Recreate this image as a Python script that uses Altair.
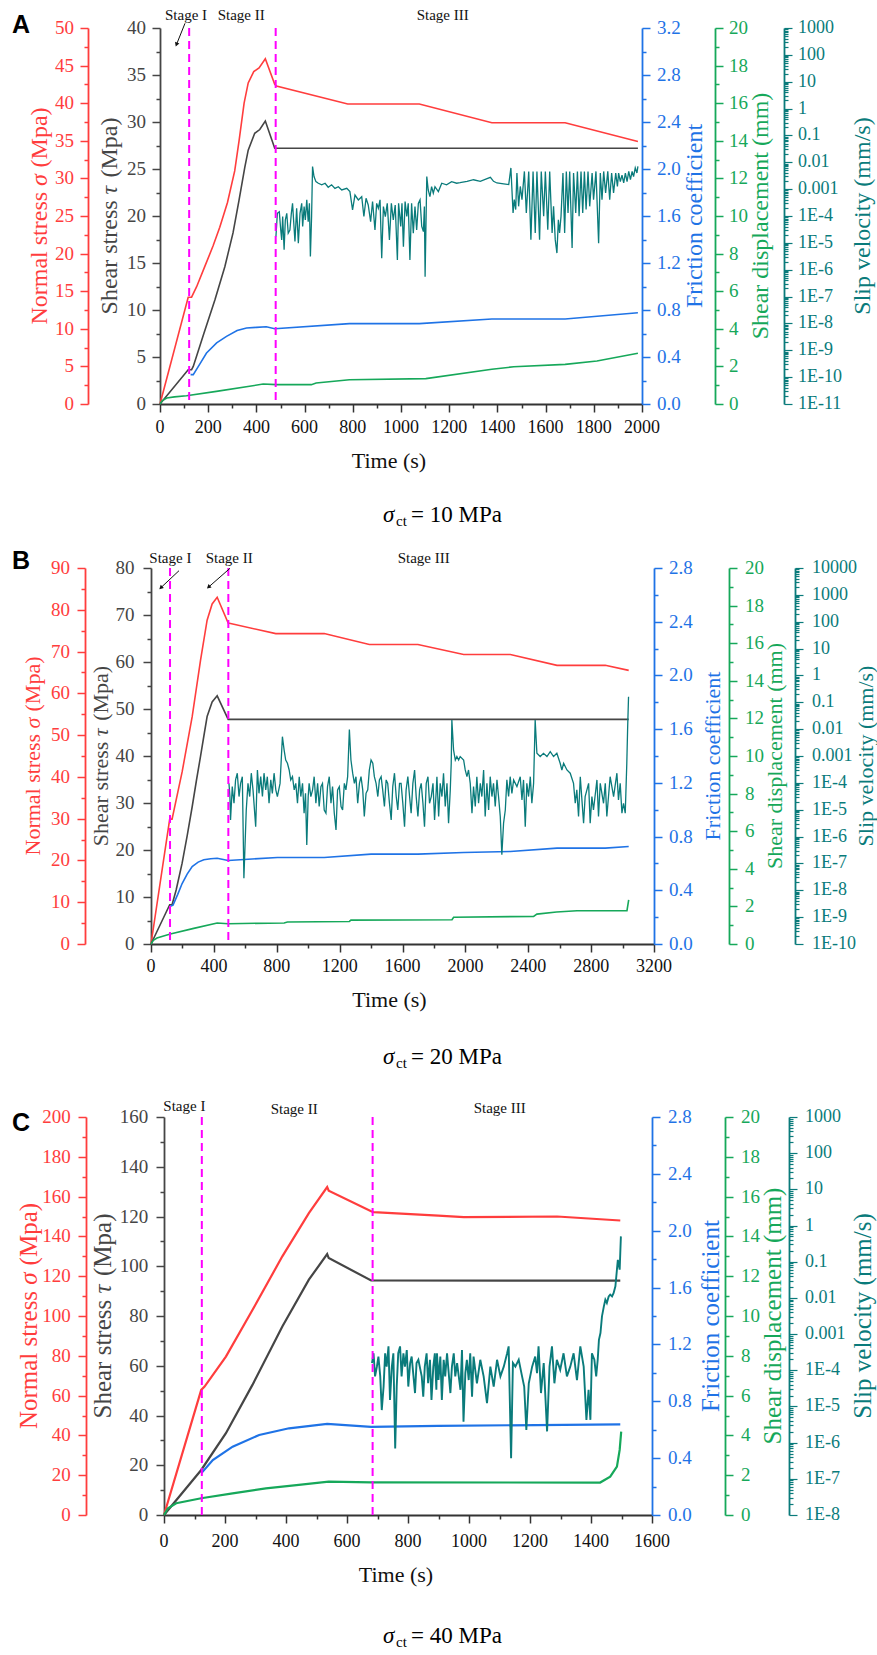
import altair as alt
import pandas as pd

FONT = "Liberation Serif"
RED = "#ff3d3d"
GRAY = "#454545"
BLUE = "#1f73e6"
GREEN = "#16a85a"
TEAL = "#0a7b7b"
MAG = "#ff00ff"
VIEW_W, VIEW_H = 877, 1655

# ---------------- Panel A (sigma_ct = 10 MPa) ----------------
A_red_t = [0, 117, 131, 152, 186, 220, 248, 280, 310, 328, 349, 366, 389, 411, 437, 476, 483, 779, 1076, 1377, 1681, 1983]
A_red_v = [0, 14.2, 14.2, 15.6, 18.3, 21.0, 23.5, 26.8, 31.0, 35.0, 40.0, 42.7, 44.2, 44.7, 45.9, 42.5, 42.3, 39.9, 39.9, 37.4, 37.4, 34.9]
A_blk_t = [0, 117, 131, 138, 182, 228, 269, 303, 328, 352, 366, 393, 414, 437, 476, 1983]
A_blk_v = [0, 3.65, 3.65, 4.0, 7.5, 11.1, 14.6, 18.2, 21.7, 25.2, 27.0, 28.8, 29.2, 30.1, 27.2, 27.2]
A_blu_t = [127, 138, 165, 193, 235, 276, 320, 359, 400, 441, 476, 786, 1076, 1377, 1681, 1983]
A_blu_v = [0.25, 0.25, 0.34, 0.434, 0.52, 0.576, 0.625, 0.647, 0.652, 0.658, 0.641, 0.684, 0.684, 0.723, 0.723, 0.777]
A_grn_t = [0, 10, 28, 60, 110, 234, 428, 483, 628, 648, 786, 1103, 1377, 1468, 1681, 1813, 1983]
A_grn_v = [0, 0.18, 0.32, 0.38, 0.44, 0.67, 1.06, 1.03, 1.03, 1.12, 1.29, 1.35, 1.85, 1.98, 2.11, 2.29, 2.70]
# slip velocity, log10(mm/s)
A_slip_t = [481, 487, 495, 501, 505, 509, 515, 520, 526, 532, 539, 545, 550, 556, 560, 567, 574, 581, 588, 592,
            598, 603, 609, 615, 620, 624, 629, 633, 639, 647, 657, 671, 685, 698, 712, 726, 740, 754, 775, 788,
            799, 809, 823, 837, 846, 855, 864, 874, 882, 892, 899, 906, 913, 920, 927, 935, 943, 952, 960, 968,
            976, 985, 990, 999, 1004, 1010, 1017, 1024, 1030, 1037, 1044, 1051, 1058, 1065, 1072, 1079, 1086, 1093, 1097, 1100,
            1107, 1113, 1120, 1127, 1134, 1141, 1155, 1169, 1189, 1210, 1231, 1245, 1274, 1301, 1329, 1357, 1371, 1384, 1398, 1426,
            1447, 1456, 1465, 1470, 1476, 1481, 1488, 1495, 1502, 1512, 1520, 1530, 1539, 1548, 1557, 1564, 1575, 1582, 1592, 1599,
            1609, 1617, 1627, 1633, 1640, 1647, 1653, 1658, 1664, 1672, 1679, 1686, 1693, 1700, 1710, 1716, 1725, 1732, 1739, 1747,
            1754, 1761, 1768, 1776, 1783, 1793, 1799, 1809, 1820, 1827, 1834, 1841, 1849, 1858, 1866, 1874, 1882, 1891, 1898, 1903,
            1910, 1917, 1924, 1931, 1938, 1945, 1952, 1959, 1965, 1972, 1979, 1983]
A_slip_log = [-4.77, -3.90, -3.84, -4.52, -4.89, -4.02, -5.26, -4.15, -3.90, -4.64, -4.52, -3.90, -3.53, -4.39, -4.95, -3.71, -5.01, -3.90, -3.53, -4.39,
              -3.65, -4.15, -3.40, -4.21, -3.53, -5.51, -4.02, -2.16, -2.53, -2.72, -2.78, -2.84, -2.78, -2.93, -2.84, -2.97, -2.91, -3.03, -2.97, -3.09,
              -3.77, -3.22, -3.40, -3.28, -4.02, -3.34, -3.59, -4.21, -3.46, -4.52, -3.53, -3.71, -3.40, -5.57, -3.65, -4.02, -3.53, -4.89, -3.53, -4.15,
              -3.59, -5.64, -3.53, -4.39, -3.53, -5.14, -3.46, -4.02, -3.53, -5.64, -3.53, -4.64, -3.65, -4.52, -3.53, -3.40, -4.39, -4.58, -3.65, -6.26,
              -2.53, -3.03, -3.28, -2.91, -3.15, -2.91, -3.09, -2.78, -2.84, -2.72, -2.78, -2.76, -2.71, -2.65, -2.71, -2.61, -2.56, -2.71, -2.77, -2.80,
              -2.83, -2.21, -3.89, -3.39, -3.76, -2.40, -3.64, -2.90, -3.39, -2.34, -3.89, -2.34, -4.88, -2.34, -4.63, -2.34, -4.88, -2.34, -4.01, -2.34,
              -4.51, -2.34, -4.63, -3.64, -4.88, -5.38, -4.14, -4.63, -4.01, -2.40, -4.63, -2.34, -3.89, -2.34, -5.19, -2.40, -3.89, -2.34, -4.01, -2.34,
              -3.89, -2.34, -3.76, -2.34, -3.64, -2.40, -3.39, -2.34, -5.01, -2.40, -3.39, -2.34, -3.14, -2.34, -3.39, -2.40, -3.14, -2.40, -2.90, -2.40,
              -2.72, -2.48, -2.77, -2.40, -2.72, -2.34, -2.65, -2.34, -2.53, -2.21, -2.40, -2.15]
A_stage_t = [121, 480]

# ---------------- Panel B (sigma_ct = 20 MPa) ----------------
B_red_t = [0, 119, 134, 198, 262, 315, 357, 389, 421, 491, 506, 794, 1102, 1389, 1698, 1989, 2286, 2583, 2890, 3039]
B_red_v = [0, 29.9, 29.9, 41.2, 54.4, 67.9, 77.5, 81.4, 83.0, 76.8, 76.7, 74.3, 74.3, 71.7, 71.7, 69.3, 69.3, 66.7, 66.7, 65.5]
B_blk_t = [0, 119, 134, 160, 198, 230, 262, 290, 315, 340, 357, 389, 421, 491, 3039]
B_blk_v = [0, 8.35, 8.35, 11.5, 17.2, 23.0, 29.2, 35.0, 39.9, 45.0, 48.4, 51.5, 52.8, 47.8, 47.8]
B_blu_t = [123, 140, 170, 198, 230, 262, 300, 336, 380, 421, 491, 804, 1102, 1400, 1698, 1989, 2286, 2583, 2890, 3039]
B_blu_v = [0.28, 0.29, 0.37, 0.45, 0.52, 0.577, 0.61, 0.627, 0.635, 0.639, 0.622, 0.644, 0.644, 0.669, 0.669, 0.681, 0.689, 0.714, 0.714, 0.726]
B_grn_t = [0, 15, 38, 80, 123, 272, 421, 491, 847, 868, 1262, 1272, 1915, 1925, 2434, 2455, 2580, 2710, 3028, 3039]
B_grn_v = [0, 0.2, 0.32, 0.43, 0.53, 0.83, 1.12, 1.08, 1.12, 1.17, 1.2, 1.27, 1.29, 1.42, 1.47, 1.59, 1.70, 1.77, 1.77, 2.35]
B_slip_t = [496, 502, 506, 517, 528, 538, 549, 560, 570, 581, 591, 606, 617, 628, 638, 649, 666, 677, 687, 698,
            709, 719, 730, 740, 751, 762, 772, 783, 794, 804, 821, 836, 847, 857, 868, 879, 889, 900, 911, 921,
            932, 943, 953, 964, 974, 983, 991, 1000, 1006, 1017, 1028, 1038, 1049, 1060, 1070, 1081, 1091, 1102, 1113, 1123,
            1134, 1145, 1155, 1166, 1177, 1187, 1198, 1209, 1219, 1230, 1240, 1251, 1262, 1272, 1283, 1294, 1304, 1315, 1326, 1336,
            1347, 1357, 1368, 1379, 1389, 1400, 1411, 1421, 1432, 1443, 1453, 1464, 1474, 1485, 1496, 1506, 1517, 1528, 1538, 1549,
            1560, 1570, 1581, 1591, 1602, 1613, 1623, 1634, 1645, 1655, 1666, 1677, 1687, 1698, 1709, 1719, 1730, 1740, 1751, 1762,
            1772, 1783, 1794, 1804, 1815, 1819, 1830, 1840, 1851, 1861, 1872, 1883, 1893, 1904, 1910, 1914, 1925, 1936, 1946, 1957,
            1967, 1989, 1999, 2010, 2020, 2031, 2042, 2052, 2063, 2073, 2084, 2095, 2105, 2116, 2126, 2137, 2148, 2158, 2169, 2179,
            2190, 2201, 2211, 2222, 2232, 2243, 2254, 2264, 2275, 2285, 2296, 2307, 2328, 2349, 2360, 2370, 2381, 2391, 2402, 2413,
            2423, 2434, 2444, 2455, 2476, 2497, 2519, 2540, 2561, 2582, 2603, 2614, 2625, 2646, 2667, 2688, 2699, 2709, 2720, 2731,
            2752, 2762, 2784, 2794, 2805, 2815, 2837, 2847, 2858, 2879, 2890, 2900, 2921, 2943, 2964, 2974, 2985, 2996, 3006, 3017,
            3027, 3032, 3038]
B_slip_log = [-4.02, -4.51, -5.38, -4.14, -4.76, -3.89, -3.64, -4.51, -4.02, -3.77, -7.55, -5.01, -4.02, -4.51, -3.64, -4.26, -5.63, -3.52, -4.39, -3.77,
              -4.51, -3.64, -4.26, -3.77, -4.76, -3.89, -4.39, -3.64, -4.26, -4.51, -4.02, -2.28, -2.78, -3.15, -3.27, -3.52, -3.89, -3.77, -4.26, -4.02,
              -4.76, -3.77, -4.51, -4.02, -5.13, -4.39, -6.31, -4.51, -4.02, -4.51, -4.26, -3.77, -4.76, -4.02, -4.88, -4.14, -4.02, -5.01, -5.13, -4.14,
              -3.77, -4.76, -4.14, -5.13, -5.75, -4.26, -4.14, -4.88, -5.01, -4.02, -4.26, -3.77, -2.01, -3.15, -3.64, -4.02, -3.77, -4.76, -4.02, -3.77,
              -4.26, -5.25, -4.39, -4.26, -3.52, -3.15, -3.27, -3.77, -4.02, -4.51, -3.89, -3.77, -4.26, -4.88, -3.89, -4.02, -4.76, -5.38, -4.14, -3.64,
              -4.51, -5.01, -4.02, -4.02, -4.76, -5.63, -4.26, -3.77, -4.51, -5.13, -4.02, -3.52, -4.51, -5.25, -4.26, -4.02, -4.76, -5.63, -4.02, -3.77,
              -4.76, -4.51, -4.02, -5.38, -4.26, -3.77, -5.25, -4.02, -4.51, -3.64, -4.88, -4.02, -5.50, -4.26, -3.27, -1.66, -2.78, -3.15, -3.02, -3.15,
              -3.02, -3.15, -3.52, -3.77, -3.52, -4.02, -5.13, -4.14, -4.88, -3.77, -4.76, -4.02, -4.51, -3.52, -5.25, -4.02, -5.01, -3.77, -4.51, -4.02,
              -4.88, -3.89, -4.51, -5.25, -6.68, -5.50, -5.01, -3.89, -4.51, -3.77, -4.39, -3.89, -4.14, -3.77, -4.64, -3.89, -5.63, -4.02, -4.51, -3.77,
              -4.76, -4.02, -1.66, -2.90, -3.02, -2.90, -3.02, -2.84, -3.02, -2.90, -3.27, -3.52, -3.27, -3.52, -3.64, -4.02, -4.76, -4.26, -5.25, -3.77,
              -5.50, -4.51, -4.02, -5.50, -4.51, -5.01, -3.89, -5.25, -4.02, -4.76, -4.02, -5.25, -3.77, -4.51, -3.64, -4.64, -4.02, -5.13, -4.76, -5.13,
              -3.27, -2.03, -0.79]
B_stage_t = [121, 492]

# ---------------- Panel C (sigma_ct = 40 MPa) ----------------
C_red_t = [0, 122, 133, 203, 290, 388, 475, 535, 540, 679, 687, 899, 983, 1289, 1496]
C_red_v = [0, 62.9, 64.5, 79.6, 103, 130, 151.7, 164.8, 163, 152.6, 152.2, 150.4, 149.7, 150, 148]
C_blk_t = [0, 122, 203, 290, 388, 475, 535, 540, 679, 1496]
C_blk_v = [0, 18.1, 32.9, 52.3, 75.8, 94.6, 104.9, 103.3, 94.3, 94.2]
C_blu_t = [122, 160, 225, 312, 410, 535, 679, 899, 1496]
C_blu_v = [0.293, 0.387, 0.481, 0.563, 0.61, 0.641, 0.62, 0.627, 0.638]
C_grn_t = [0, 13, 40, 122, 225, 334, 442, 540, 679, 1430, 1463, 1485, 1494, 1499]
C_grn_v = [0, 0.34, 0.59, 0.84, 1.09, 1.34, 1.51, 1.68, 1.64, 1.63, 1.93, 2.43, 3.27, 4.19]
C_slip_t = [682, 687, 692, 698, 703, 709, 714, 720, 725, 730, 736, 741, 747, 752, 758, 763, 768, 774, 779, 785,
            790, 796, 801, 807, 812, 817, 823, 828, 834, 845, 850, 855, 861, 866, 872, 877, 883, 888, 893, 895,
            900, 906, 911, 917, 922, 928, 939, 944, 950, 955, 961, 972, 977, 982, 988, 993, 999, 1004, 1010, 1015,
            1026, 1037, 1048, 1059, 1070, 1081, 1092, 1103, 1114, 1125, 1130, 1138, 1144, 1152, 1163, 1174, 1181, 1188, 1196, 1207,
            1217, 1223, 1228, 1236, 1245, 1256, 1264, 1272, 1280, 1288, 1299, 1310, 1321, 1332, 1343, 1354, 1365, 1376, 1385, 1392,
            1398, 1403, 1411, 1417, 1422, 1426, 1431, 1436, 1442, 1447, 1452, 1458, 1463, 1469, 1474, 1480, 1485, 1488, 1492, 1494,
            1496, 1498]
C_slip_log = [-3.80, -3.53, -4.17, -3.90, -3.62, -4.17, -5.10, -4.45, -3.53, -3.90, -3.34, -4.82, -3.90, -3.53, -6.16, -4.45, -3.53, -3.34, -4.17, -3.53,
              -3.90, -3.44, -4.45, -3.80, -3.62, -4.08, -4.63, -3.80, -3.71, -4.17, -4.73, -3.90, -3.53, -4.36, -3.71, -4.82, -3.90, -3.53, -4.54, -3.53,
              -4.27, -3.62, -4.82, -3.71, -4.17, -3.53, -4.63, -3.90, -3.53, -4.17, -3.80, -4.54, -3.44, -5.42, -4.08, -3.71, -4.27, -3.53, -4.73, -3.62,
              -4.36, -3.71, -4.17, -4.91, -3.90, -4.45, -3.71, -4.17, -3.90, -3.53, -3.34, -6.43, -3.80, -3.90, -3.71, -4.17, -4.45, -5.65, -4.36, -3.90,
              -3.62, -4.08, -3.34, -4.63, -3.80, -5.69, -3.90, -3.34, -4.36, -3.71, -3.99, -3.53, -4.17, -3.90, -3.53, -4.27, -3.34, -3.90, -5.37, -4.54,
              -5.37, -3.53, -3.71, -4.17, -3.71, -3.16, -2.97, -2.51, -2.24, -2.05, -2.14, -1.96, -1.91, -1.96, -1.87, -1.68, -1.22, -0.95, -1.13, -1.22,
              -0.76, -0.30]
C_stage_t = [124, 684]

DUMMY = pd.DataFrame({"a": [0]})


def major_test(step):
    return f"abs(datum.value/{step} - round(datum.value/{step})) < 0.001"


def tick_size(test):
    return {"condition": {"test": test, "value": 8}, "value": 4}


def tick_axis(color, orient, offset, vals, test, width=1.5):
    # axis draws the line and (major/minor) ticks; labels and titles are text marks
    return alt.Axis(orient=orient, offset=offset, title=None, labels=False, values=vals,
                    tickSize=tick_size(test), domainColor=color, tickColor=color,
                    domainWidth=1.8, tickWidth=width, grid=False)


def lin_ticks(dmax, minor):
    n = int(round(dmax / minor))
    return [round(i * minor, 6) for i in range(n + 1)]


def log_ticks(emin, emax):
    vals = []
    for e in range(emin, emax + 1):
        vals.append(10.0 ** e)
        if e < emax:
            for k in range(2, 10):
                vals.append(k * 10.0 ** e)
    return vals


def log_label(e):
    if e >= 0:
        return str(10 ** e)
    if e >= -3:
        return ("%." + str(-e) + "f") % (10.0 ** e)
    return "1E%d" % e


def text_layer(txt, x, y, size, **kw):
    return alt.Chart(DUMMY).mark_text(text=txt, align="left", baseline="alphabetic", fontSize=size,
                                      **kw).encode(x=alt.value(x), y=alt.value(y))


# rotated titles with an italic Greek symbol: (text, italic, advance in em incl. following space)
TITLE_RED = [("Normal stress", False, 5.777), ("σ", True, 0.77), ("(Mpa)", False, 2.499)]
TITLE_BLK = [("Shear stress", False, 4.999), ("τ", True, 0.70), ("(Mpa)", False, 2.499)]


def panel_layers(c):
    x0, x1 = c["xr"]
    y0, y1 = c["yr"]  # top, bottom in pixels
    ymid = (y0 + y1) / 2
    sw = c["sw"]
    ts = c["tsize"]
    xscale = alt.Scale(domain=[0, c["xmax"]], range=[x0, x1], nice=False, zero=False)
    xaxis = tick_axis("#333333", "bottom", -(VIEW_H - y1), list(range(0, c["xmax"] + 1, c["xminor"])),
                      major_test(c["xmajor"]))

    def X(with_axis):
        return alt.X("t:Q", scale=xscale, axis=xaxis if with_axis else None)

    def line(t, v, color, scale, axis, width, with_x_axis=False):
        df = pd.DataFrame({"t": t, "v": v})
        return alt.Chart(df).mark_line(color=color, strokeWidth=width).encode(
            x=X(with_x_axis), y=alt.Y("v:Q", scale=scale, axis=axis))

    def ylabels(vals, labs, scale, x, align, color, size=19):
        df = pd.DataFrame({"v": vals, "lab": labs})
        return alt.Chart(df).mark_text(align=align, baseline="middle", font=FONT, fontSize=size,
                                       color=color).encode(
            y=alt.Y("v:Q", scale=scale, axis=None), x=alt.value(x), text="lab:N")

    def ytitle(txt, x, color):
        return [alt.Chart(DUMMY).mark_text(text=txt, align="center", baseline="middle", angle=270,
                                           font=FONT, fontSize=ts, color=color).encode(
            x=alt.value(x), y=alt.value(ymid))]

    def ytitle_parts(parts, x, color):
        total = sum(p[2] for p in parts) * ts
        ypos = ymid + total / 2
        out = []
        for txt, ital, w in parts:
            kw = dict(fontStyle="italic") if ital else {}
            out.append(alt.Chart(DUMMY).mark_text(text=txt, align="left", baseline="middle", angle=270,
                                                  font=FONT, fontSize=ts, color=color, **kw).encode(
                x=alt.value(x), y=alt.value(ypos)))
            ypos -= w * ts
        return out

    L = []
    # --- normal stress (red, outer left)
    s_red = alt.Scale(domain=[0, c["red_max"]], range=[y1, y0], nice=False, zero=False)
    rm = c["red_major"]
    L.append(line(c["red_t"], c["red_v"], RED, s_red,
                  tick_axis(RED, "left", -c["red_x"], lin_ticks(c["red_max"], rm / 2), major_test(rm)), sw))
    rv = lin_ticks(c["red_max"], rm)
    L.append(ylabels(rv, ["%d" % v for v in rv], s_red, c["red_lx"], "right", RED))
    L += ytitle_parts(TITLE_RED, c["red_tx"], RED)
    # --- shear stress (gray, inner left)
    s_blk = alt.Scale(domain=[0, c["blk_max"]], range=[y1, y0], nice=False, zero=False)
    bm = c["blk_major"]
    L.append(line(c["blk_t"], c["blk_v"], GRAY, s_blk,
                  tick_axis(GRAY, "left", -x0, lin_ticks(c["blk_max"], bm / 2), major_test(bm)), sw,
                  with_x_axis=True))
    bv = lin_ticks(c["blk_max"], bm)
    L.append(ylabels(bv, ["%d" % v for v in bv], s_blk, c["blk_lx"], "right", GRAY))
    L += ytitle_parts(TITLE_BLK, c["blk_tx"], GRAY)
    # --- friction coefficient (blue, inner right)
    s_blu = alt.Scale(domain=[0, c["blu_max"]], range=[y1, y0], nice=False, zero=False)
    L.append(line(c["blu_t"], c["blu_v"], BLUE, s_blu,
                  tick_axis(BLUE, "right", -(VIEW_W - x1), lin_ticks(c["blu_max"], 0.2), major_test(0.4)), sw))
    fv = lin_ticks(c["blu_max"], 0.4)
    L.append(ylabels(fv, ["%.1f" % v for v in fv], s_blu, c["blu_lx"], "left", BLUE))
    L += ytitle("Friction coefficient", c["blu_tx"], BLUE)
    # --- shear displacement (green)
    s_grn = alt.Scale(domain=[0, 20], range=[y1, y0], nice=False, zero=False)
    L.append(line(c["grn_t"], c["grn_v"], GREEN, s_grn,
                  tick_axis(GREEN, "right", -(VIEW_W - c["grn_x"]), lin_ticks(20, 1), major_test(2)), sw))
    gv = lin_ticks(20, 2)
    L.append(ylabels(gv, ["%d" % v for v in gv], s_grn, c["grn_lx"], "left", GREEN))
    L += ytitle("Shear displacement (mm)", c["grn_tx"], GREEN)
    # --- slip velocity (teal, log)
    s_log = alt.Scale(type="log", domain=[10.0 ** c["emin"], 10.0 ** c["emax"]], range=[y1, y0], nice=False)
    ltest = "abs(log(datum.value)/LN10 - round(log(datum.value)/LN10)) < 0.01"
    L.append(line(c["slip_t"], [10.0 ** e for e in c["slip_log"]], TEAL, s_log,
                  tick_axis(TEAL, "right", -(VIEW_W - c["teal_x"]), log_ticks(c["emin"], c["emax"]), ltest, 1.2),
                  sw - 0.3))
    exps = list(range(c["emin"], c["emax"] + 1))
    L.append(ylabels([10.0 ** e for e in exps], [log_label(e) for e in exps], s_log, c["teal_lx"], "left",
                     TEAL, 18))
    L += ytitle("Slip velocity (mm/s)", c["teal_tx"], TEAL)
    # --- x tick labels and title
    xv = list(range(0, c["xmax"] + 1, c["xmajor"]))
    L.append(alt.Chart(pd.DataFrame({"v": xv, "lab": [str(v) for v in xv]})).mark_text(
        align="center", baseline="alphabetic", font=FONT, fontSize=18, color="#111111").encode(
        x=alt.X("v:Q", scale=xscale, axis=None), y=alt.value(c["xlab_y"]), text="lab:N"))
    tx, ty = c["xtitle"]
    L.append(alt.Chart(DUMMY).mark_text(text="Time (s)", align="center", baseline="alphabetic", font=FONT,
                                        fontSize=22, fontWeight="normal", color="#111111").encode(
        x=alt.value(tx), y=alt.value(ty)))
    # stage boundaries
    L.append(alt.Chart(pd.DataFrame({"t": c["stage_t"]})).mark_rule(
        color=MAG, strokeDash=[8, 5], strokeWidth=2).encode(x=X(False), y=alt.value(y0), y2=alt.value(y1)))
    # stage labels
    for txt, x, y in c["labels"]:
        L.append(text_layer(txt, x, y, 15, font=FONT, color="#111111"))
    # arrows
    for ax1, ay1, ax2, ay2, ang in c["arrows"]:
        L.append(alt.Chart(DUMMY).mark_rule(color="#111111", strokeWidth=1).encode(
            x=alt.value(ax1), y=alt.value(ay1), x2=alt.value(ax2), y2=alt.value(ay2)))
        L.append(alt.Chart(DUMMY).mark_point(shape="triangle", filled=True, size=22, angle=ang,
                                             color="#111111", opacity=1).encode(
            x=alt.value(ax2), y=alt.value(ay2)))
    # panel letter
    lx, ly = c["letter_pos"]
    L.append(text_layer(c["letter"], lx, ly, 25, font="Liberation Sans", fontWeight="bold", color="#000000"))
    # caption sigma_ct = .. MPa
    cx, cy = c["cap_pos"]
    L.append(text_layer("σ", cx, cy, 23, font=FONT, fontStyle="italic", color="#000000"))
    L.append(text_layer("ct", cx + 13, cy + 4, 15, font=FONT, color="#000000"))
    L.append(text_layer(c["caption"], cx + 28, cy, 23, font=FONT, color="#000000"))
    return L


cfgA = dict(xr=(160, 642), yr=(28, 404), xmax=2000, xmajor=200, xminor=100, tsize=24, sw=1.6,
            xlab_y=433, xtitle=(389, 467.5),
            red_t=A_red_t, red_v=A_red_v, red_max=50, red_major=5, red_x=88, red_lx=74, red_tx=39.5,
            blk_t=A_blk_t, blk_v=A_blk_v, blk_max=40, blk_major=5, blk_lx=146, blk_tx=110,
            blu_t=A_blu_t, blu_v=A_blu_v, blu_max=3.2, blu_lx=657, blu_tx=694.5,
            grn_t=A_grn_t, grn_v=A_grn_v, grn_x=715, grn_lx=729, grn_tx=761,
            slip_t=A_slip_t, slip_log=A_slip_log, emin=-11, emax=3, teal_x=784, teal_lx=798, teal_tx=863,
            stage_t=A_stage_t,
            labels=[("Stage I", 165, 20), ("Stage II", 217.7, 20), ("Stage III", 416.7, 20)],
            arrows=[(185, 23.3, 176.7, 44, 202)],
            letter="A", letter_pos=(12, 33), caption="= 10 MPa", cap_pos=(383, 522))

cfgB = dict(xr=(151, 654), yr=(568, 944), xmax=3200, xmajor=400, xminor=200, tsize=22, sw=1.6,
            xlab_y=972, xtitle=(389.5, 1006.5),
            red_t=B_red_t, red_v=B_red_v, red_max=90, red_major=10, red_x=85, red_lx=70, red_tx=33,
            blk_t=B_blk_t, blk_v=B_blk_v, blk_max=80, blk_major=10, blk_lx=134.5, blk_tx=100.5,
            blu_t=B_blu_t, blu_v=B_blu_v, blu_max=2.8, blu_lx=669, blu_tx=713,
            grn_t=B_grn_t, grn_v=B_grn_v, grn_x=729, grn_lx=745, grn_tx=775,
            slip_t=B_slip_t, slip_log=B_slip_log, emin=-10, emax=4, teal_x=795, teal_lx=812, teal_tx=866,
            stage_t=B_stage_t,
            labels=[("Stage I", 149.3, 563.3), ("Stage II", 205.7, 563.3), ("Stage III", 397.7, 563.3)],
            arrows=[(179, 570.7, 161.3, 587.3, 227), (230, 568.3, 209, 586.7, 229)],
            letter="B", letter_pos=(12, 569), caption="= 20 MPa", cap_pos=(383, 1064))

cfgC = dict(xr=(164, 652), yr=(1117, 1515), xmax=1600, xmajor=200, xminor=100, tsize=25, sw=2.2,
            xlab_y=1547, xtitle=(396, 1581.5),
            red_t=C_red_t, red_v=C_red_v, red_max=200, red_major=20, red_x=86, red_lx=70.7, red_tx=29,
            blk_t=C_blk_t, blk_v=C_blk_v, blk_max=160, blk_major=20, blk_lx=148.3, blk_tx=103,
            blu_t=C_blu_t, blu_v=C_blu_v, blu_max=2.8, blu_lx=668, blu_tx=711,
            grn_t=C_grn_t, grn_v=C_grn_v, grn_x=725, grn_lx=741, grn_tx=773,
            slip_t=C_slip_t, slip_log=C_slip_log, emin=-8, emax=3, teal_x=789, teal_lx=805, teal_tx=863,
            stage_t=C_stage_t,
            labels=[("Stage I", 163.3, 1111), ("Stage II", 270.7, 1114), ("Stage III", 473.7, 1113.3)],
            arrows=[],
            letter="C", letter_pos=(12, 1131), caption="= 40 MPa", cap_pos=(383, 1643))

layers = panel_layers(cfgA) + panel_layers(cfgB) + panel_layers(cfgC)

chart = alt.layer(*layers).resolve_scale(x="independent", y="independent").properties(
    width=VIEW_W, height=VIEW_H, autosize=alt.AutoSizeParams(type="none"),
    padding={"left": 0, "top": 0, "right": 0, "bottom": 0}
).configure_view(stroke=None)

chart.save("out.html", embed_options={"renderer": "svg", "actions": False})
